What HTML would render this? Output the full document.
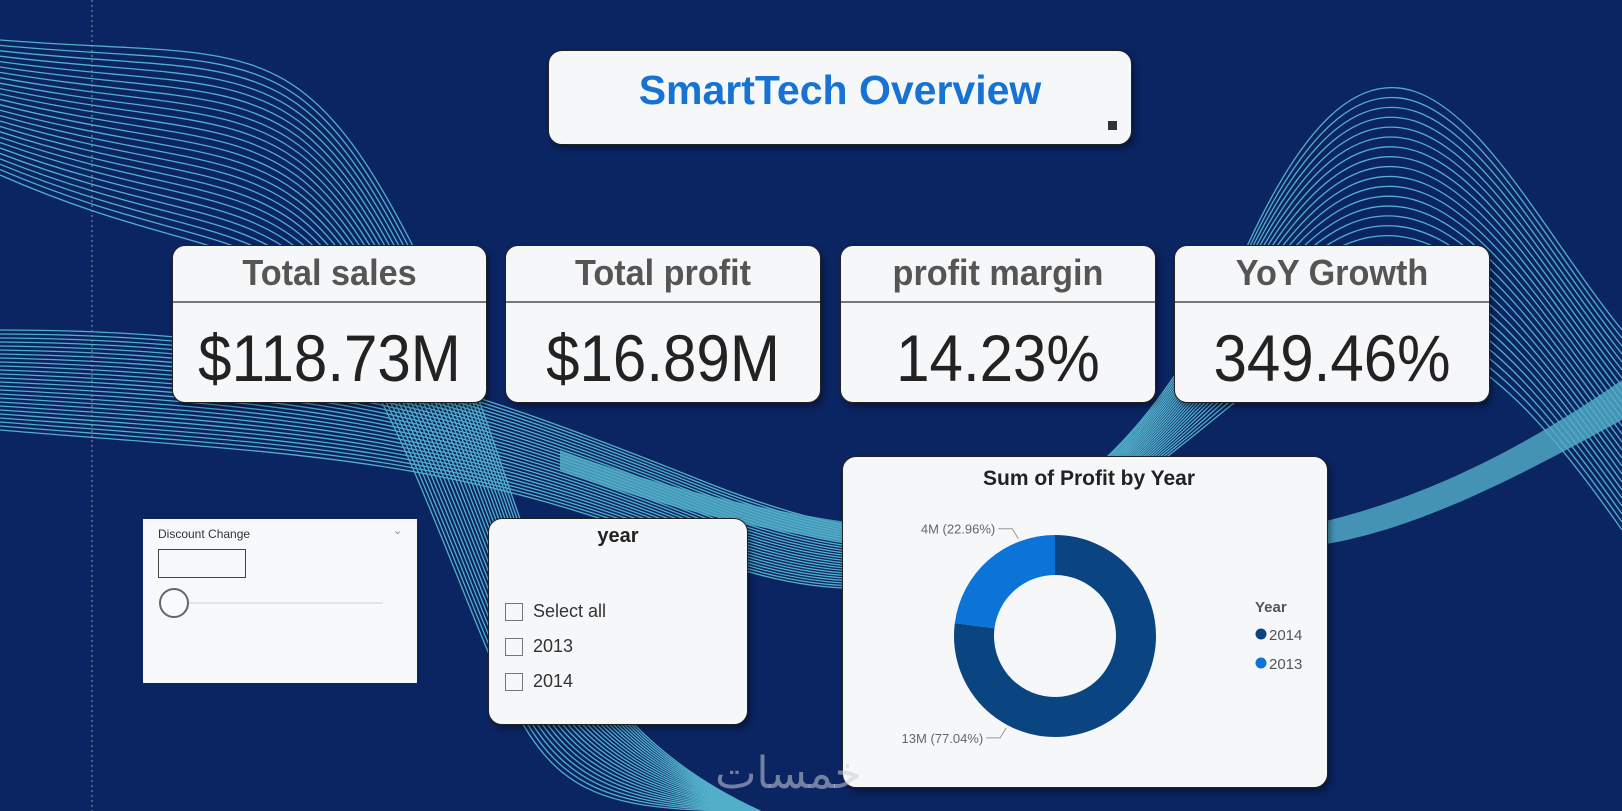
<!DOCTYPE html>
<html><head><meta charset="utf-8">
<style>
html,body{margin:0;padding:0;}
body{width:1622px;height:811px;overflow:hidden;background:#0b2462;position:relative;font-family:"Liberation Sans",sans-serif;}
.abs{position:absolute;}
.card{position:absolute;background:#f6f7f9;border:1.5px solid #222;border-radius:13px;box-sizing:border-box;box-shadow:3px 4px 6px rgba(0,0,0,.35);}
.kt{position:absolute;left:0;right:0;top:6px;text-align:center;font-family:"Liberation Sans",sans-serif;font-weight:bold;font-size:36px;color:#555;transform:scaleX(0.95);}
.kd{position:absolute;left:0;right:0;top:55px;height:2px;background:#777;}
.kv{position:absolute;left:0;right:0;top:74px;text-align:center;font-family:"Liberation Sans",sans-serif;font-size:66px;color:#222;transform:scaleX(0.91);}
.cb{position:absolute;left:16px;width:18px;height:18px;border:1px solid #777;box-sizing:border-box;}
.cl{position:absolute;left:44px;font-size:18px;color:#333;}
</style></head>
<body>
<svg class="abs" style="left:0;top:0" width="1622" height="811">
  <g fill="none" stroke="#5fc8dc" stroke-width="1.3" opacity="0.85" id="waves"></g>
  <line x1="92" y1="0" x2="92" y2="811" stroke="#8899aa" stroke-dasharray="2,3" stroke-width="1"/>
</svg>
<script>
(function(){
  var g=document.getElementById('waves');
  for(var i=0;i<26;i++){
    var p=document.createElementNS('http://www.w3.org/2000/svg','path');
    var o=i*9;
    p.setAttribute('d','M0,'+(40+o*0.6)+' C250,'+(60+o)+' 300,'+(20+o*0.8)+' 420,'+(260+o)+' S520,'+(700+o*0.5)+' 760,'+(811));
    g.appendChild(p);
    var q=document.createElementNS('http://www.w3.org/2000/svg','path');
    q.setAttribute('d','M0,'+(330+i*4)+' C300,'+(330+i*5)+' 450,'+(380+i*3)+' 700,'+(480+i*3)+' S1100,'+(560-i*2)+' 1250,'+(240+i*6)+' S1500,'+(180+i*7)+' 1622,'+(330+i*8));
    g.appendChild(q);
  }
  var b=document.createElementNS('http://www.w3.org/2000/svg','path');
  b.setAttribute('d','M560,450 C800,540 1100,560 1330,520 C1450,490 1550,430 1622,380 L1622,420 C1530,470 1420,530 1320,545 C1100,580 800,560 560,470 Z');
  b.setAttribute('fill','#5fc8dc');b.setAttribute('stroke','none');b.setAttribute('opacity','0.8');
  g.appendChild(b);
})();
</script>

<div class="card" style="left:548px;top:50px;width:584px;height:95px;border-radius:14px;">
  <div class="abs" style="left:0;right:0;top:16px;text-align:center;font-size:41px;font-weight:bold;color:#1673d4;">SmartTech Overview</div>
  <div class="abs" style="right:14px;bottom:14px;width:9px;height:9px;background:#333;"></div>
</div>

<div class="card" style="left:172px;top:245px;width:315px;height:158px;">
  <div class="kt">Total sales</div><div class="kd"></div>
  <div class="kv">$118.73M</div></div>
<div class="card" style="left:505px;top:245px;width:316px;height:158px;">
  <div class="kt">Total profit</div><div class="kd"></div>
  <div class="kv">$16.89M</div></div>
<div class="card" style="left:840px;top:245px;width:316px;height:158px;">
  <div class="kt">profit margin</div><div class="kd"></div>
  <div class="kv">14.23%</div></div>
<div class="card" style="left:1174px;top:245px;width:316px;height:158px;">
  <div class="kt">YoY Growth</div><div class="kd"></div>
  <div class="kv">349.46%</div></div>

<div class="abs" style="left:143px;top:519px;width:274px;height:164px;background:#f7f8fa;">
  <div class="abs" style="left:15px;top:8px;font-size:12px;color:#333;">Discount Change</div>
  <div class="abs" style="left:250px;top:5px;font-size:11px;color:#888;">&#8964;</div>
  <div class="abs" style="left:15px;top:30px;width:88px;height:29px;border:1px solid #444;box-sizing:border-box;"></div>
  <div class="abs" style="left:30px;top:83px;width:210px;height:2px;background:#e2e4e8;"></div>
  <div class="abs" style="left:16px;top:69px;width:30px;height:30px;border:2px solid #666;border-radius:50%;box-sizing:border-box;background:#f8fafb;"></div>
</div>

<div class="card" style="left:488px;top:518px;width:260px;height:207px;border-radius:14px;">
  <div class="abs" style="left:0;right:0;top:6px;text-align:center;font-weight:bold;font-size:20px;color:#222;">year</div>
  <div class="cb" style="top:84px;"></div><div class="cl" style="top:82px;">Select all</div>
  <div class="cb" style="top:119px;"></div><div class="cl" style="top:117px;">2013</div>
  <div class="cb" style="top:154px;"></div><div class="cl" style="top:152px;">2014</div>
</div>

<div class="card" style="left:842px;top:456px;width:486px;height:332px;border-radius:14px;">
  <div class="abs" style="left:0;right:0;top:10px;text-align:center;font-weight:bold;font-size:21px;color:#222;padding-left:8px;">Sum of Profit by Year</div>
  <svg class="abs" style="left:0;top:0" width="486" height="332" id="donut"></svg>
  <div class="abs" style="left:412px;top:142px;font-weight:bold;font-size:15px;color:#555;">Year</div>
</div>
<script>
var years=["2014","2013"];
var profits=[13.01,3.88];
var labels=["13M (77.04%)","4M (22.96%)"];
var colors=["#0a4582","#0b74d6"];
(function(){
  var svg=document.getElementById('donut'),NS='http://www.w3.org/2000/svg';
  var cx=212,cy=179,R=101,r=61,total=profits.reduce(function(a,b){return a+b;},0);
  function pt(a,rad){return [cx+rad*Math.sin(a),cy-rad*Math.cos(a)];}
  var a0=0;
  for(var i=0;i<profits.length;i++){
    var a1=a0+profits[i]/total*2*Math.PI,lg=(a1-a0)>Math.PI?1:0;
    var p1=pt(a0,R),p2=pt(a1,R),p3=pt(a1,r),p4=pt(a0,r);
    var p=document.createElementNS(NS,'path');
    p.setAttribute('d','M'+p1+' A'+R+','+R+' 0 '+lg+' 1 '+p2+' L'+p3+' A'+r+','+r+' 0 '+lg+' 0 '+p4+' Z');
    p.setAttribute('fill',colors[i]);
    
    
    svg.appendChild(p);
    var la=a0+(a1-a0)*0.75,e=pt(la,R+3);
    var ly=e[1]+(Math.cos(la)<0?10:-10);
    var l=document.createElementNS(NS,'polyline');
    l.setAttribute('points',e+' '+(e[0]-6)+','+ly+' '+(e[0]-20)+','+ly);
    l.setAttribute('fill','none');l.setAttribute('stroke','#999');
    
    
    svg.appendChild(l);
    var t=document.createElementNS(NS,'text');
    t.setAttribute('x',e[0]-23);t.setAttribute('y',ly+5);t.setAttribute('text-anchor','end');
    t.setAttribute('font-size','13');t.setAttribute('fill','#666');t.setAttribute('font-family','Liberation Sans, sans-serif');
    t.textContent=labels[i];
    
    
    svg.appendChild(t);
    var c=document.createElementNS(NS,'circle');
    c.setAttribute('cx',418);c.setAttribute('cy',177+i*29);c.setAttribute('r',5.5);c.setAttribute('fill',colors[i]);
    
    
    svg.appendChild(c);
    var lt=document.createElementNS(NS,'text');
    lt.setAttribute('x',426);lt.setAttribute('y',183+i*29);lt.setAttribute('font-size','15');lt.setAttribute('fill','#555');lt.setAttribute('font-family','Liberation Sans, sans-serif');
    lt.textContent=years[i];
    
    
    svg.appendChild(lt);
    a0=a1;
  }
})();
</script>
<div class="abs" style="left:715px;top:748px;font-size:44px;color:rgba(200,205,215,.55);font-family:'DejaVu Sans',sans-serif;">خمسات</div>
</body></html>
